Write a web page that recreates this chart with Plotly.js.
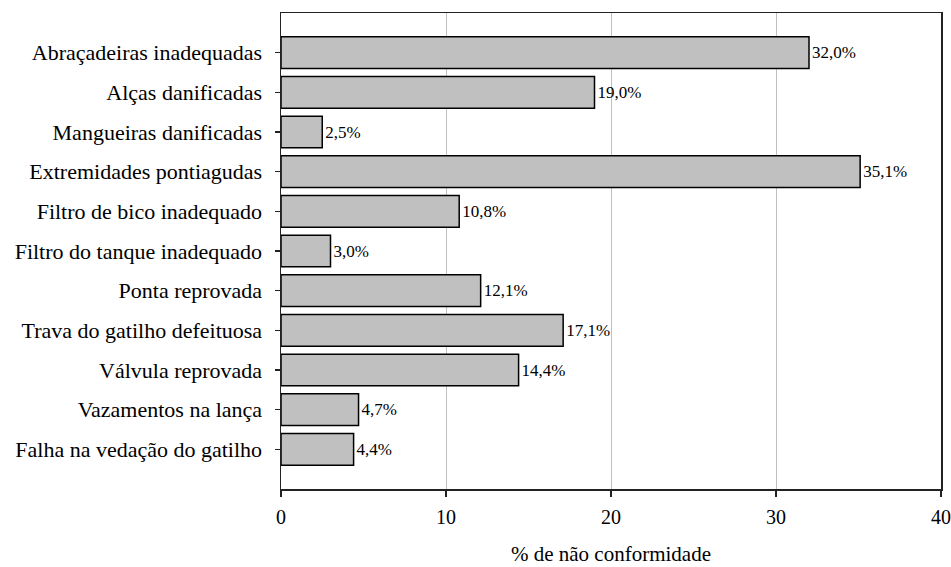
<!DOCTYPE html>
<html>
<head>
<meta charset="utf-8">
<script src="https://cdn.plot.ly/plotly-3.0.1.min.js"></script>
<style>html,body{margin:0;padding:0;background:#fff;}#chart{width:951px;height:567px;}</style>
</head>
<body>
<div id="chart"></div>
<script>
const categories = [
  "Abraçadeiras inadequadas",
  "Alças danificadas",
  "Mangueiras danificadas",
  "Extremidades pontiagudas",
  "Filtro de bico inadequado",
  "Filtro do tanque inadequado",
  "Ponta reprovada",
  "Trava do gatilho defeituosa",
  "Válvula reprovada",
  "Vazamentos na lança",
  "Falha na vedação do gatilho"
];
const values = [32.0, 19.0, 2.5, 35.1, 10.8, 3.0, 12.1, 17.1, 14.4, 4.7, 4.4];
const xTicks = [0, 10, 20, 30, 40];
const xTitle = "% de não conformidade";

const labels = values.map(v => v.toFixed(1).replace('.', ',') + '%');
const FONT = "Liberation Serif, Times New Roman, serif";

const trace = {
  type: 'bar',
  orientation: 'h',
  x: values,
  y: categories,
  text: labels,
  textposition: 'outside',
  cliponaxis: false,
  textfont: {family: FONT, size: 17, color: '#000'},
  marker: {color: '#c0c0c0', line: {color: '#000', width: 1.5}},
  hoverinfo: 'x+y'
};

const layout = {
  width: 951,
  height: 567,
  margin: {l: 281, r: 10, t: 13, b: 78, pad: 0},
  paper_bgcolor: '#fff',
  plot_bgcolor: '#fff',
  font: {family: FONT, size: 21, color: '#000'},
  showlegend: false,
  bargap: 0.2,
  xaxis: {
    range: [0, 40],
    tickvals: xTicks,
    ticktext: xTicks.map(String),
    ticks: 'outside',
    ticklen: 6,
    tickwidth: 1.5,
    tickcolor: '#222',
    showline: true,
    linecolor: '#222',
    linewidth: 1.5,
    mirror: true,
    showgrid: true,
    gridcolor: '#c0c0c0',
    gridwidth: 1,
    zeroline: false,
    tickfont: {family: FONT, size: 20, color: '#000'},
    title: {text: xTitle, font: {family: FONT, size: 21, color: '#000'}, standoff: 20},
    ticklabelstandoff: 3,
    automargin: false
  },
  yaxis: {
    type: 'category',
    categoryorder: 'array',
    categoryarray: categories,
    range: [11, -1],
    ticks: 'outside',
    ticklen: 5,
    tickwidth: 1.5,
    tickcolor: '#222',
    showline: true,
    linecolor: '#222',
    linewidth: 1.5,
    mirror: true,
    showgrid: false,
    zeroline: false,
    tickfont: {family: FONT, size: 22, color: '#000'},
    ticklabelstandoff: 8,
    automargin: false
  }
};

Plotly.newPlot('chart', [trace], layout, {displayModeBar: false, staticPlot: true});
</script>
</body>
</html>
